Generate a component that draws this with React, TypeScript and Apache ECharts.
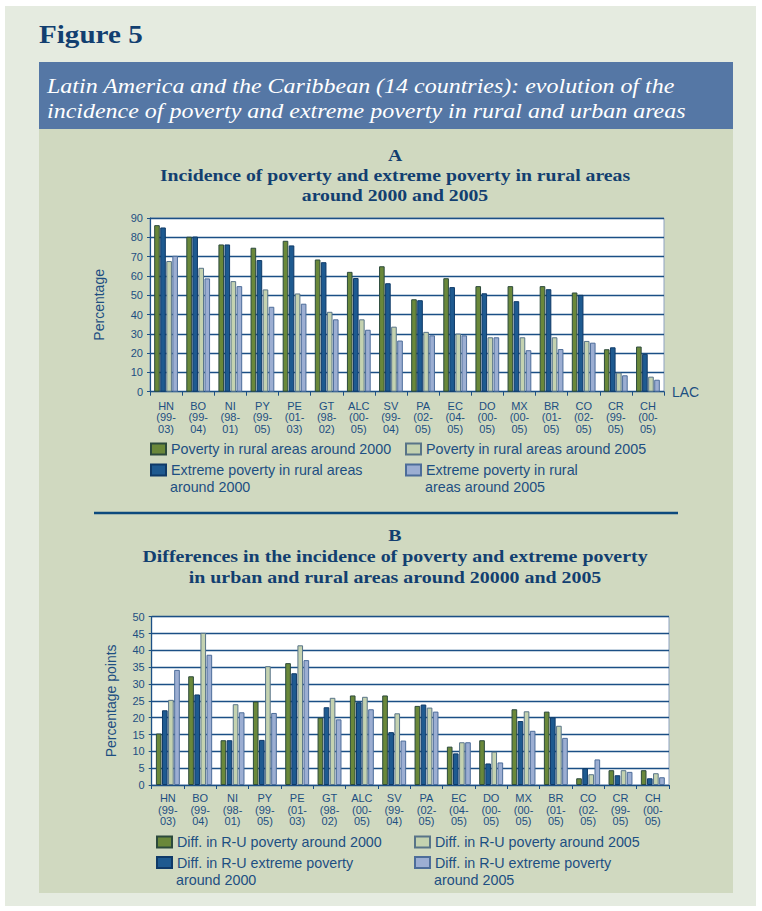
import React, { useEffect, useRef } from 'react';
import * as echarts from 'echarts';

const countries = ['HN', 'BO', 'NI', 'PY', 'PE', 'GT', 'ALC', 'SV', 'PA', 'EC', 'DO', 'MX', 'BR', 'CO', 'CR', 'CH'];
const periods = ['99-03', '99-04', '98-01', '99-05', '01-03', '98-02', '00-05', '99-04', '02-05', '04-05', '00-05', '00-05', '01-05', '02-05', '99-05', '00-05'];

const ruralPoverty2000 = [86.3, 80.3, 76.3, 74.6, 78.2, 68.5, 62.1, 65.0, 47.9, 58.8, 54.7, 54.7, 54.7, 51.4, 22.0, 23.4];
const ruralExtreme2000 = [85.1, 80.4, 76.3, 68.2, 75.8, 67.1, 58.9, 56.2, 47.4, 54.2, 51.0, 46.9, 53.1, 50.2, 23.0, 19.6];
const ruralPoverty2005 = [67.7, 64.2, 57.3, 53.0, 50.9, 41.4, 37.5, 33.7, 31.0, 30.1, 28.2, 28.2, 28.2, 26.3, 9.9, 7.8];
const ruralExtreme2005 = [70.4, 58.7, 54.7, 44.0, 45.6, 37.5, 32.1, 26.5, 29.2, 29.2, 28.2, 21.5, 22.1, 25.4, 8.5, 6.2];

const diffPoverty2000 = [15.3, 32.3, 13.3, 24.8, 36.2, 20.0, 26.6, 26.6, 23.5, 11.4, 13.3, 22.5, 21.8, 2.0, 4.4, 4.4];
const diffExtreme2000 = [22.2, 26.9, 13.3, 13.4, 33.2, 23.1, 24.6, 15.7, 23.9, 9.4, 6.4, 19.0, 20.1, 5.0, 2.9, 2.0];
const diffPoverty2005 = [25.3, 45.2, 24.0, 35.3, 41.5, 25.9, 26.2, 21.3, 23.0, 12.7, 9.9, 21.9, 17.6, 3.2, 4.4, 3.5];
const diffExtreme2005 = [34.2, 38.7, 21.6, 21.4, 37.1, 19.5, 22.5, 13.2, 21.8, 12.7, 6.7, 16.1, 14.0, 7.6, 3.9, 2.3];

const seriesNamesA = [
  'Poverty in rural areas around 2000',
  'Extreme poverty in rural areas around 2000',
  'Poverty in rural areas around 2005',
  'Extreme poverty in rural areas around 2005',
];
// first line shown by the legend, second line (if any) drawn under it
const legendLinesA = [
  ['Poverty in rural areas around 2000', ''],
  ['Extreme poverty in rural areas', 'around 2000'],
  ['Poverty in rural areas around 2005', ''],
  ['Extreme poverty in rural', 'areas around 2005'],
];
const seriesNamesB = [
  'Diff. in R-U poverty around 2000',
  'Diff. in R-U extreme poverty around 2000',
  'Diff. in R-U poverty around 2005',
  'Diff. in R-U extreme poverty around 2005',
];
const legendLinesB = [
  ['Diff. in R-U poverty around 2000', ''],
  ['Diff. in R-U extreme poverty', 'around 2000'],
  ['Diff. in R-U poverty around 2005', ''],
  ['Diff. in R-U extreme poverty', 'around 2005'],
];

const TXT = '#1d4f82';
const AXIS = '#1b4f85';
const TITLE = '#123f70';
const SERIF = '"Liberation Serif", "DejaVu Serif", serif';
const SANS = '"Liberation Sans", Arial, sans-serif';

const barStyles = [
  { color: '#6a883a', borderColor: '#2c4a3c' },
  { color: '#1e5a90', borderColor: '#0f3a68' },
  { color: '#c4d2b0', borderColor: '#587488' },
  { color: '#9caed2', borderColor: '#4d6d9a' },
];

export default function App() {
  const ref = useRef<HTMLDivElement>(null);
  useEffect(() => {
    if (!ref.current) return;
    const chart = echarts.init(ref.current, undefined, { renderer: 'svg' });
    const labels = countries.map((c, i) => `${c}\n(${periods[i].split('-')[0]}-\n${periods[i].split('-')[1]})`);

    const mkX = (gridIndex: number, margin: number, name?: string) => ({
      type: 'category',
      gridIndex,
      data: labels,
      name: name || '',
      nameLocation: 'end',
      nameGap: 8,
      nameTextStyle: { fontFamily: SANS, fontSize: 14, color: TXT },
      axisLine: { lineStyle: { color: AXIS, width: 1.2 } },
      axisTick: { show: true, alignWithLabel: false, length: 4, lineStyle: { color: AXIS } },
      axisLabel: { interval: 0, fontFamily: SANS, fontSize: 11, lineHeight: 11.5, color: TXT, margin },
      splitLine: { show: false },
    });
    const mkY = (gridIndex: number, max: number, interval: number, name: string, nameGap: number) => ({
      type: 'value',
      gridIndex,
      min: 0,
      max,
      interval,
      name,
      nameLocation: 'middle',
      nameGap,
      nameTextStyle: { fontFamily: SANS, fontSize: 14, color: TXT },
      axisLine: { show: true, lineStyle: { color: AXIS, width: 1.2 } },
      axisTick: { show: true, length: 3, lineStyle: { color: AXIS } },
      axisLabel: { fontFamily: SANS, fontSize: 11, color: TXT, margin: 7 },
      splitLine: { show: true, lineStyle: { color: AXIS, width: 1.3 } },
    });

    const mkSeries = (names: string[], data: number[][], idx: number) =>
      names.map((n, i) => ({
        type: 'bar',
        name: n,
        xAxisIndex: idx,
        yAxisIndex: idx,
        data: data[i],
        barGap: '8%',
        barCategoryGap: '26%',
        itemStyle: { ...barStyles[i], borderWidth: 1 },
      }));

    const mkLegend = (name: string, label: string, left: number, top: number) => ({
      data: [name],
      left,
      top,
      padding: 0,
      icon: 'rect',
      itemWidth: 15,
      itemHeight: 11,
      itemGap: 0,
      selectedMode: false,
      formatter: () => label,
      textStyle: { fontFamily: SANS, fontSize: 14.3, color: TXT, lineHeight: 17 },
    });

    const txt = (text: string, x: number, y: number, style: any, scaleX = 1) => ({
      type: 'text',
      x,
      y,
      z: 10,
      scaleX,
      style: { text, verticalAlign: 'middle', ...style },
    });

    const titleStyle = { font: `bold 17px ${SERIF}`, fill: TITLE, align: 'center' };
    const legText = { font: `14.3px ${SANS}`, fill: TXT };

    // legend grid positions: [iconLeft, row1Center, row2IconCenter]
    const legA = { cols: [150, 405], r1: 449, r2: 470 };
    const legB = { cols: [156, 414], r1: 842, r2: 862.5 };

    const legends: any[] = [];
    const extraTexts: any[] = [];
    const addLegends = (names: string[], lines: string[][], cfg: any) => {
      names.forEach((n, i) => {
        const col = cfg.cols[i < 2 ? 0 : 1];
        const rowC = i % 2 === 0 ? cfg.r1 : cfg.r2;
        legends.push(mkLegend(n, lines[i][0], col, rowC - 8.5));
        if (lines[i][1]) extraTexts.push(txt(lines[i][1], col + 20, rowC + 17, legText));
      });
    };
    addLegends(seriesNamesA, legendLinesA, legA);
    addLegends(seriesNamesB, legendLinesB, legB);

    chart.setOption({
      animation: false,
      backgroundColor: '#ffffff',
      graphic: [
        { type: 'rect', z: -10, shape: { x: 5, y: 6, width: 751, height: 900 }, style: { fill: '#e5ebe0' } },
        { type: 'rect', z: -9, shape: { x: 39, y: 62, width: 694, height: 67 }, style: { fill: '#5577a5' } },
        { type: 'rect', z: -9, shape: { x: 39, y: 129, width: 694, height: 764 }, style: { fill: '#d0d9c0' } },
        txt('Figure 5', 39, 34, { font: `bold 26px ${SERIF}`, fill: TITLE }, 1.12),
        txt('Latin America and the Caribbean (14 countries): evolution of the', 47, 85, { font: `italic 22px ${SERIF}`, fill: '#ffffff' }, 1.09),
        txt('incidence of poverty and extreme poverty in rural and urban areas', 47, 110, { font: `italic 22px ${SERIF}`, fill: '#ffffff' }, 1.09),
        txt('A', 395, 155, titleStyle, 1.16),
        txt('Incidence of poverty and extreme poverty in rural areas', 395, 175, titleStyle, 1.16),
        txt('around 2000 and 2005', 395, 195, titleStyle, 1.16),
        { type: 'line', z: 5, shape: { x1: 94, y1: 513, x2: 678, y2: 513 }, style: { stroke: '#0c4a7d', lineWidth: 2.5 } },
        txt('B', 395, 535, titleStyle, 1.17),
        txt('Differences in the incidence of poverty and extreme poverty', 395, 556, titleStyle, 1.17),
        txt('in urban and rural areas around 20000 and 2005', 395, 577, titleStyle, 1.17),
        ...extraTexts,
      ],
      legend: legends,
      grid: [
        { left: 150, top: 218, width: 514, height: 173.7, show: true, backgroundColor: '#ffffff', borderColor: '#8ea3c2', borderWidth: 1 },
        { left: 151.7, top: 616.7, width: 517.3, height: 168.3, show: true, backgroundColor: '#ffffff', borderColor: '#8ea3c2', borderWidth: 1 },
      ],
      xAxis: [mkX(0, 8.5, 'LAC'), mkX(1, 7.3)],
      yAxis: [mkY(0, 90, 10, 'Percentage', 44), mkY(1, 50, 5, 'Percentage points', 34)],
      series: [
        ...mkSeries(seriesNamesA, [ruralPoverty2000, ruralExtreme2000, ruralPoverty2005, ruralExtreme2005], 0),
        ...mkSeries(seriesNamesB, [diffPoverty2000, diffExtreme2000, diffPoverty2005, diffExtreme2005], 1),
      ],
    });
    return () => chart.dispose();
  }, []);
  return <div ref={ref} style={{ position: 'absolute', left: 0, top: 0, width: 762, height: 911 }} />;
}
